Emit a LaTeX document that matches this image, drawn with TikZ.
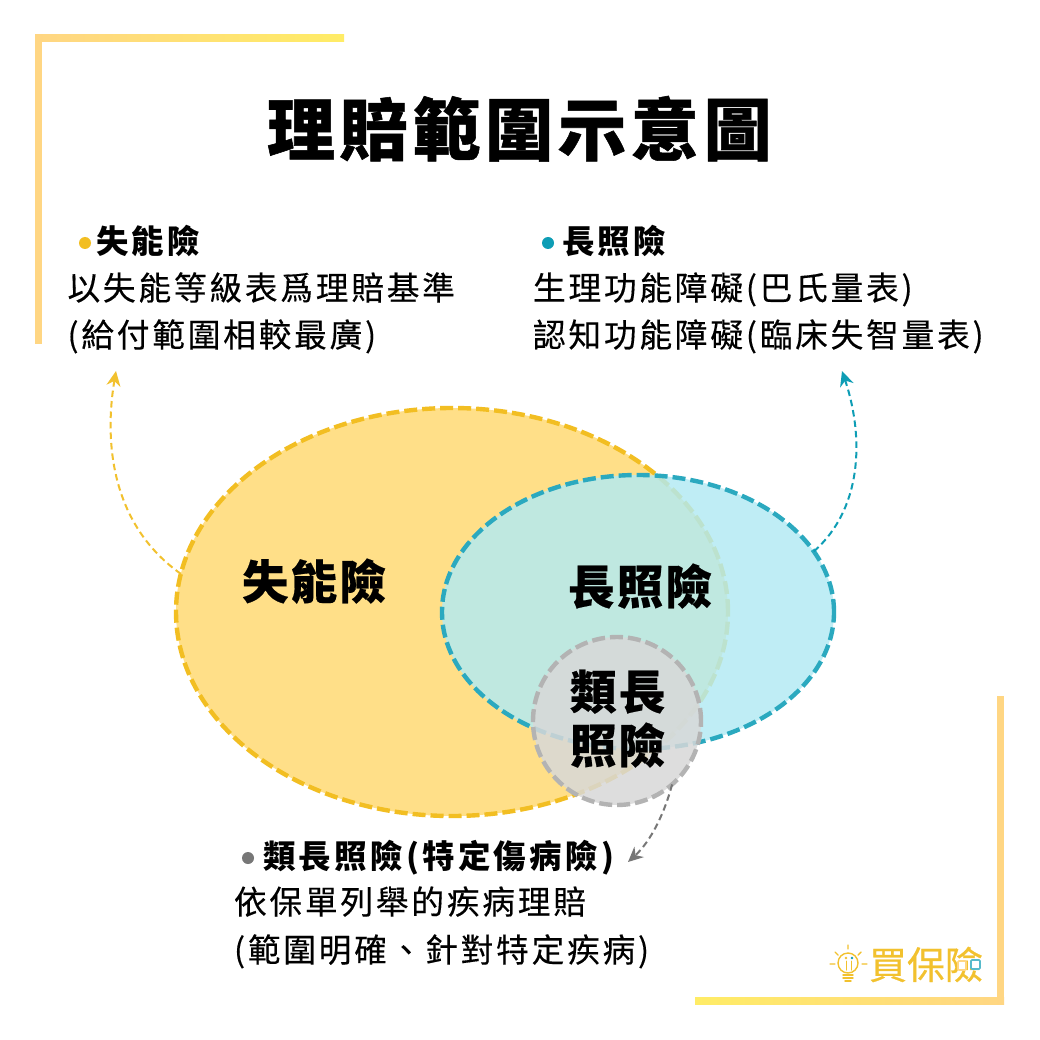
\documentclass[tikz,border=0pt]{standalone}
\usepackage{fontspec}
\usetikzlibrary{shapes.geometric,arrows.meta}
\newfontfamily\titlef[LetterSpace=7,FakeBold=0.8]{Noto Sans CJK TC}
\newfontfamily\headf[LetterSpace=10]{Noto Sans CJK TC}
\newfontfamily\bodyf[LetterSpace=8.5,FakeBold=0.35]{Noto Sans CJK TC}
\newfontfamily\mainf[LetterSpace=5,FakeBold=0.4]{Noto Sans CJK TC}
\newfontfamily\logof[LetterSpace=0,FakeBold=0.5]{Noto Sans CJK TC}
\definecolor{cyellow}{HTML}{F2BE22}
\definecolor{cyfill}{HTML}{FFDF88}
\definecolor{cteal}{HTML}{2BA9BF}
\definecolor{ctfill}{RGB}{177,234,244}
\definecolor{cgray}{HTML}{B3B3B3}
\definecolor{cgfill}{RGB}{216,216,216}
\definecolor{carrowy}{HTML}{F2C12E}
\definecolor{carrowt}{HTML}{0E9DB5}
\definecolor{carrowg}{HTML}{777777}
\definecolor{bara}{HTML}{FFD683}
\definecolor{barb}{HTML}{FFEC66}
\tikzset{
  x=1pt,y=-1pt,
  txt/.style={inner sep=0,outer sep=0,anchor=base west,text=black},
  title/.style={txt,font=\titlef\bfseries\fontsize{68}{72}\selectfont},
  head/.style={txt,font=\headf\bfseries\fontsize{32.5}{36}\selectfont},
  body/.style={txt,font=\bodyf\fontsize{32.7}{36}\selectfont},
  mainl/.style={txt,font=\mainf\bfseries\fontsize{46.5}{50}\selectfont},
  set/.style={inner sep=0,outer sep=0,line width=4.4pt,dash pattern=on 13pt off 5pt},
  bullet/.style={circle,inner sep=0,outer sep=0,minimum size=12pt},
  conn/.style={line width=2pt,dash pattern=on 6.5pt off 4pt,-{Stealth[length=15pt,width=14pt]}},
  ray/.style={draw=carrowy,line width=1.4pt,line cap=round},
}
\begin{document}
\begin{tikzpicture}
\path[use as bounding box,fill=white] (0,0) rectangle (1040,1040);
% frame
\fill[bara] (35,35) rectangle (42,344);
\shade[left color=bara,right color=barb,draw=none] (35,35) rectangle (344,42);
\fill[bara] (997,696) rectangle (1004,1004);
\shade[left color=barb,right color=bara,draw=none] (695,997) rectangle (1004,1004);
% sets
\node[set,ellipse,draw=cyellow,fill=cyfill,minimum width=552pt,minimum height=408pt] (ylw) at (452,612) {};
\node[set,ellipse,draw=cteal,fill=ctfill,fill opacity=.82,minimum width=392pt,minimum height=274pt] (tel) at (638,612) {};
\node[set,circle,draw=cgray,fill=cgfill,fill opacity=.85,minimum size=168pt] (gry) at (617,721) {};
% text
\node[title] (t) at (267,155) {理賠範圍示意圖};
\node[bullet,fill=cyellow] (b1) at (85,243) {};
\node[head] (h1) at (96,254) {失能險};
\node[body] (l1a) at (67.500,300) {以失能等級表爲理賠基準};
\node[body] (l1b) at (67.500,347) {(給付範圍相較最廣)};
\node[bullet,fill=carrowt] (b2) at (548,243) {};
\node[head] (h2) at (562,254) {長照險};
\node[body] (l2a) at (533,300) {生理功能障礙(巴氏量表)};
\node[body] (l2b) at (533,347) {認知功能障礙(臨床失智量表)};
\node[bullet,fill=carrowg] (b3) at (248,858) {};
\node[head] (h3) at (263,868) {類長照險(特定傷病險)};
\node[body] (l3a) at (234,914) {依保單列舉的疾病理賠};
\node[body] (l3b) at (234,962) {(範圍明確、針對特定疾病)};
\node[mainl] (m1) at (242,599) {失能險};
\node[mainl] (m2) at (568,604) {長照險};
\node[mainl] (m3) at (570,709) {類長};
\node[mainl] (m4) at (570,763) {照險};
% connectors
\coordinate (e1) at (116,371);
\coordinate (e2) at (842,371);
\coordinate (e3) at (628,862);
\draw[conn,draw=carrowy] (ylw.172) .. controls (105,520) and (106,430) .. (e1);
\draw[conn,draw=carrowt] (tel.19.4) .. controls (866,505) and (862,430) .. (e2);
\draw[conn,draw=carrowg] (gry.-49) .. controls (664,815) and (650,842) .. (e3);
% logo
\node[inner sep=0,outer sep=0,anchor=base west,text=carrowy,font=\logof\fontsize{38}{40}\selectfont] (logo) at (869,979) {買保險};
\draw[draw=bara,line width=1.6pt,rounded corners=1pt,fill=white] (958,961) rectangle (966,970);
\draw[draw=carrowt!70,line width=1.6pt,rounded corners=1pt,fill=white] (971,960) rectangle (980,969);
\draw[ray] (848,963) circle[radius=10pt];
\draw[ray] (843,975) -- (853,975) (843,978) -- (853,978) (845,981) -- (851,981);
\draw[ray] (830,964) -- (835,964) (862,964) -- (867,964) (848,945) -- (848,949) (835,952) -- (838,955) (861,952) -- (858,955);
\draw[ray,line width=1pt] (846,961) -- (846,970) (851,961) -- (851,970);
\fill[carrowt] (852,958) circle[radius=1.3pt];
\fill[carrowy] (846,958) circle[radius=1.3pt];
\end{tikzpicture}
\end{document}
